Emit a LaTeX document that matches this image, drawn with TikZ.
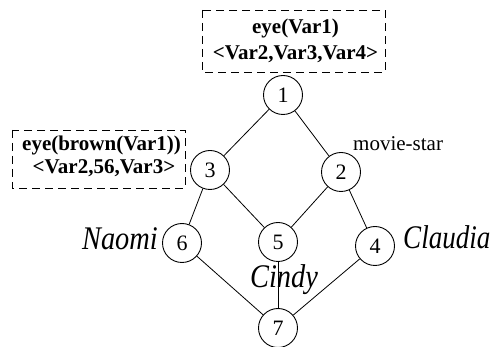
\documentclass[tikz,border=0pt]{standalone}
\usepackage{graphicx}
\usepackage{fontspec}
\setmainfont{Liberation Serif}
\newcommand{\narrow}[1]{\scalebox{0.86}[1]{#1}}
\begin{document}
\begin{tikzpicture}[x=1pt,y=-1pt,
  vertex/.style={circle,draw,line width=0.9pt,minimum size=39pt,inner sep=0pt,
    font=\fontsize{22}{22}\selectfont},
  edge/.style={line width=0.8pt},
  annot/.style={draw,dash pattern=on 8pt off 5pt,line width=0.9pt},
  boxtext/.style={inner sep=0pt,anchor=base,font=\fontsize{21}{21}\selectfont\bfseries},
  person/.style={inner sep=0pt,font=\fontsize{33}{33}\selectfont\itshape},
  roletag/.style={inner sep=0pt,font=\fontsize{21}{21}\selectfont}]
\useasboundingbox (0,0) rectangle (496,347);

% lattice vertices
\node[vertex] (n1) at (283,95) {1};
\node[vertex] (n3) at (210,170) {3};
\node[vertex] (n2) at (341,172) {2};
\node[vertex] (n6) at (182,243) {6};
\node[vertex] (n5) at (278,242) {5};
\node[vertex] (n4) at (375,246) {4};
\node[vertex] (n7) at (278,328) {7};

% lattice edges
\draw[edge] (n1) -- (n3);
\draw[edge] (n1) -- (n2);
\draw[edge] (n3) -- (n6);
\draw[edge] (n3) -- (n5);
\draw[edge] (n2) -- (n5);
\draw[edge] (n2) -- (n4);
\draw[edge] (n6) -- (n7);
\draw[edge] (n5) -- (n7);
\draw[edge] (n4) -- (n7);

% annotation boxes
\draw[annot] (202,10) rectangle (385,72);
\node[boxtext] (t1a) at (295.5,34) {eye(Var1)};
\node[boxtext] (t1b) at (295.5,60) {<Var2,Var3,Var4>};

\draw[annot] (12,130) rectangle (185,188);
\node[boxtext] (t3a) at (101.5,151) {eye(brown(Var1))};
\node[boxtext] (t3b) at (104,174) {<Var2,56,Var3>};

% labels
\node[roletag,anchor=base west] (ms) at (353,151) {movie-star};
\node[person,anchor=base east] (naomi) at (158,250) {\narrow{Naomi}};
\node[person,anchor=base] (cindy) at (284,288) {\narrow{Cindy}};
\node[person,anchor=base west] (claudia) at (403,249) {\scalebox{0.82}[1]{Claudia}};
\end{tikzpicture}
\end{document}
